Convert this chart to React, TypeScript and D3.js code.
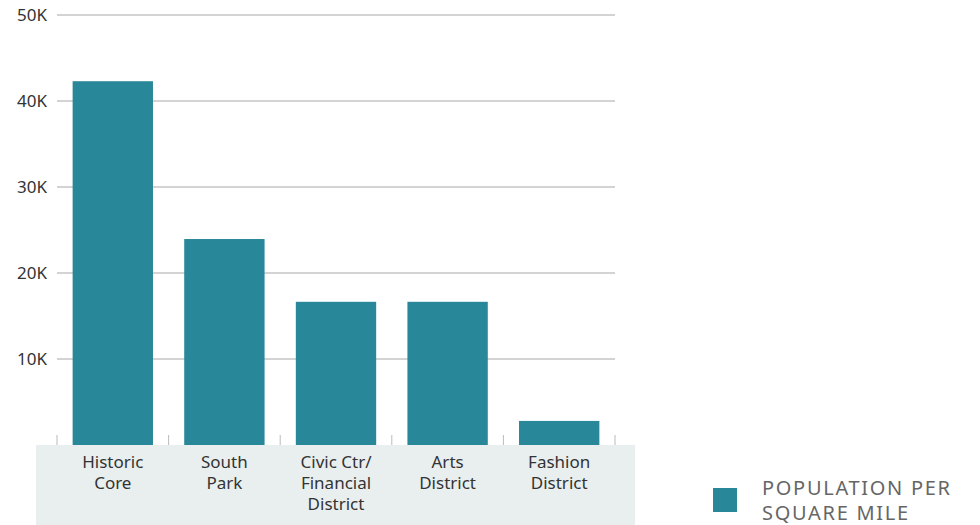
import React from "react";
import * as d3 from "d3";

const categories: string[][] = [
  ["Historic", "Core"],
  ["South", "Park"],
  ["Civic Ctr/", "Financial", "District"],
  ["Arts", "District"],
  ["Fashion", "District"],
];
const values: number[] = [42300, 23950, 16650, 16650, 2800];
const yTicks: number[] = [10000, 20000, 30000, 40000, 50000];
const yTickLabels: string[] = ["10K", "20K", "30K", "40K", "50K"];
const seriesName: string[] = ["POPULATION PER", "SQUARE MILE"];

const W = 980;
const H = 525;
const left = 57;
const right = 615;
const top = 15;
const bottom = 445;
const color = "#288798";
const font = "'Noto Sans', 'Open Sans', sans-serif";

export default function App() {
  const x = d3
    .scaleBand<number>()
    .domain(values.map((_, i) => i))
    .range([left, right])
    .paddingInner(0.28)
    .paddingOuter(0.14);
  const y = d3.scaleLinear().domain([0, 50000]).range([bottom, top]);
  const step = x.step();
  const tickXs = d3.range(categories.length + 1).map((i) => left + i * step);

  return (
    <svg
      width={W}
      height={H}
      style={{ position: "absolute", left: 0, top: 0, display: "block" }}
    >
      <rect x={0} y={0} width={W} height={H} fill="#fff" />
      {yTicks.map((t, i) => (
        <g key={t}>
          <line x1={left} x2={right} y1={y(t)} y2={y(t)} stroke="#a8a8a8" strokeWidth={1} />
          <text
            x={47}
            y={y(t)}
            dy="0.35em"
            textAnchor="end"
            fontFamily={font}
            fontSize={17}
            fill="#333"
          >
            {yTickLabels[i]}
          </text>
        </g>
      ))}
      <rect x={36} y={bottom} width={599} height={H - bottom} fill="#e9efef" />
      {tickXs.map((tx, i) => (
        <line key={i} x1={tx} x2={tx} y1={bottom - 10} y2={bottom} stroke="#bbb" strokeWidth={1} />
      ))}
      {values.map((v, i) => (
        <rect
          key={i}
          x={x(i)}
          y={y(v)}
          width={x.bandwidth()}
          height={bottom - y(v)}
          fill={color}
        />
      ))}
      {categories.map((lines, i) => (
        <text
          key={i}
          x={(x(i) as number) + x.bandwidth() / 2}
          y={468}
          textAnchor="middle"
          fontFamily={font}
          fontSize={17}
          fill="#333"
        >
          {lines.map((l, j) => (
            <tspan key={j} x={(x(i) as number) + x.bandwidth() / 2} dy={j === 0 ? 0 : 21}>
              {l}
            </tspan>
          ))}
        </text>
      ))}
      <rect x={713} y={488} width={24} height={24} fill={color} />
      <text x={762} y={495} fontFamily={font} fontSize={20} fill="#666" letterSpacing={1.7}>
        {seriesName.map((l, j) => (
          <tspan key={j} x={762} dy={j === 0 ? 0 : 25}>
            {l}
          </tspan>
        ))}
      </text>
    </svg>
  );
}
